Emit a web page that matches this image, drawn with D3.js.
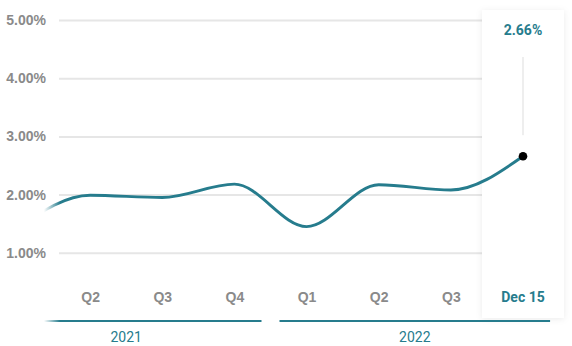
<!DOCTYPE html>
<html>
<head>
<meta charset="utf-8">
<script src="https://cdn.jsdelivr.net/npm/d3@7"></script>
<style>
  html, body { margin: 0; padding: 0; background: #fff; }
  svg { display: block; font-family: Roboto, "Noto Sans", sans-serif; }
</style>
</head>
<body>
<svg id="chart" width="572" height="346"></svg>
<script>
// Quarterly rate series, 2021 Q1 through the latest reading (Dec 15, 2022)
const periods = ["2021-Q1", "2021-Q2", "2021-Q3", "2021-Q4", "2022-Q1", "2022-Q2", "2022-Q3", "2022-Q4"];
const quarterLabels = ["Q1", "Q2", "Q3", "Q4", "Q1", "Q2", "Q3", "Q4"];
const rates = [1.44, 1.99, 1.95, 2.18, 1.45, 2.17, 2.08, 2.66];
const years = ["2021", "2022"];
const yTicks = [1, 2, 3, 4, 5];
const latestLabel = "Dec 15";

const teal = "#267c8d";
const grey = "#8a8a8a";

const svg = d3.select("#chart");
const defs = svg.append("defs");

const x = d3.scalePoint().domain(periods).range([18, 523]);
const y = d3.scaleLinear().domain([0, 5]).range([311, 20]);
const step = x.step();

// left-edge fade for the series line and the year rule
const grad = defs.append("linearGradient")
  .attr("id", "fadeGrad").attr("gradientUnits", "userSpaceOnUse")
  .attr("x1", 44).attr("x2", 60).attr("y1", 0).attr("y2", 0);
grad.append("stop").attr("offset", 0).attr("stop-color", "#fff").attr("stop-opacity", 0);
grad.append("stop").attr("offset", 1).attr("stop-color", "#fff").attr("stop-opacity", 1);
const mask = defs.append("mask").attr("id", "fadeMask")
  .attr("maskUnits", "userSpaceOnUse")
  .attr("x", 0).attr("y", 0).attr("width", 572).attr("height", 346);
mask.append("rect").attr("x", 44).attr("y", 0).attr("width", 528).attr("height", 346)
  .attr("fill", "url(#fadeGrad)");

const shadow = defs.append("filter").attr("id", "panelShadow")
  .attr("x", "-30%").attr("y", "-10%").attr("width", "160%").attr("height", "120%");
shadow.append("feDropShadow").attr("dx", 0).attr("dy", 1).attr("stdDeviation", 3)
  .attr("flood-color", "#000").attr("flood-opacity", 0.08);

// horizontal gridlines + y labels
const yAxis = d3.axisLeft(y).tickValues(yTicks)
  .tickSize(-(x(periods[7]) + 40 - 59))
  .tickPadding(13)
  .tickFormat(d => d3.format(".2f")(d) + "%");
const gy = svg.append("g").attr("transform", "translate(59,0)").call(yAxis);
gy.select(".domain").remove();
gy.selectAll(".tick line").attr("stroke", "#e6e6e6").attr("stroke-width", 2);
gy.selectAll(".tick text")
  .attr("fill", grey).attr("font-size", 14).attr("font-weight", 700)
  .attr("x", -13);

// highlight panel for the latest value
const lx = x(periods[7]);
svg.append("rect")
  .attr("x", lx - 41).attr("y", 10).attr("width", 82).attr("height", 308)
  .attr("fill", "#fff").attr("filter", "url(#panelShadow)");

// quarter labels (the latest quarter is labelled by its date instead)
const xAxis = d3.axisBottom(x).tickSize(0).tickPadding(0)
  .tickFormat((d, i) => quarterLabels[i]);
const gx = svg.append("g").attr("transform", "translate(0,302)").call(xAxis);
gx.select(".domain").remove();
gx.selectAll(".tick text")
  .attr("dy", 0).attr("y", 0)
  .attr("fill", grey)
  .attr("font-size", 14).attr("font-weight", 700)
  .style("display", (d, i) => (i === 0 || i === 7) ? "none" : null);

svg.append("text")
  .attr("x", lx).attr("y", 302).attr("text-anchor", "middle")
  .attr("fill", teal).attr("font-size", 14).attr("font-weight", 700)
  .text(latestLabel);

// year rules and labels
const yearGroups = years.map(yr => {
  const ps = periods.filter(p => p.startsWith(yr));
  return { year: yr, x0: x(ps[0]) - step / 2 + 9, x1: x(ps[ps.length - 1]) + step / 2 - 9,
           cx: (x(ps[0]) + x(ps[ps.length - 1])) / 2 };
});
const gYears = svg.append("g");
gYears.append("g").attr("mask", "url(#fadeMask)")
  .selectAll("line").data(yearGroups).join("line")
  .attr("x1", d => d.x0).attr("x2", d => d.x1)
  .attr("y1", 321).attr("y2", 321)
  .attr("stroke", teal).attr("stroke-width", 2.2);
gYears.selectAll("text").data(yearGroups).join("text")
  .attr("x", d => d.cx).attr("y", 342).attr("text-anchor", "middle")
  .attr("fill", teal).attr("font-size", 14)
  .text(d => d.year);

// series line
const line = d3.line()
  .x((d, i) => x(periods[i]))
  .y(d => y(d))
  .curve(d3.curveMonotoneX);
svg.append("path")
  .datum(rates)
  .attr("mask", "url(#fadeMask)")
  .attr("d", line)
  .attr("fill", "none").attr("stroke", teal).attr("stroke-width", 2.9);

// latest value marker, leader and label
const lv = rates[rates.length - 1];
svg.append("line")
  .attr("x1", lx).attr("x2", lx).attr("y1", 57).attr("y2", y(lv) - 21)
  .attr("stroke", "#dddddd").attr("stroke-width", 1);
svg.append("circle")
  .attr("cx", lx).attr("cy", y(lv)).attr("r", 4.3).attr("fill", "#000");
svg.append("text")
  .attr("x", lx).attr("y", 35).attr("text-anchor", "middle")
  .attr("fill", teal).attr("font-size", 14).attr("font-weight", 700)
  .text(d3.format(".2f")(lv) + "%");
</script>
</body>
</html>
